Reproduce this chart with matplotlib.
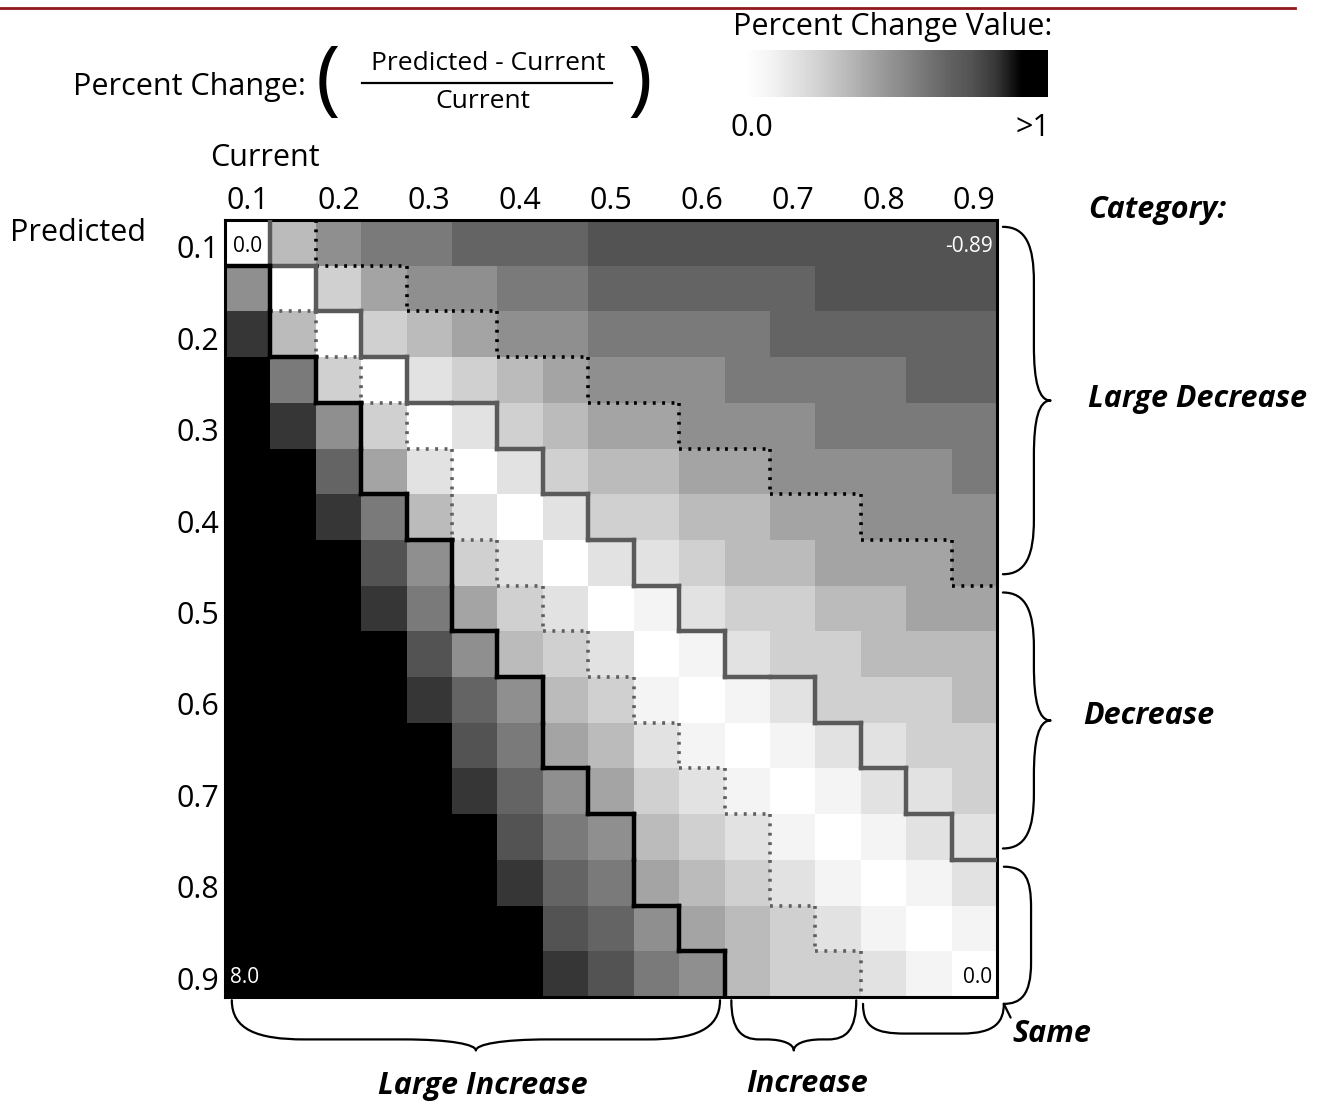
import numpy as np
import matplotlib
matplotlib.use("Agg")
import matplotlib.pyplot as plt
from matplotlib.colors import ListedColormap, BoundaryNorm, LinearSegmentedColormap
from matplotlib.collections import LineCollection
from matplotlib.path import Path
from matplotlib.patches import PathPatch
from matplotlib.lines import Line2D
from matplotlib.transforms import ScaledTranslation

plt.rcParams['font.family'] = ['Open Sans', 'DejaVu Sans']

# values on both axes
current = [0.1, 0.15, 0.2, 0.25, 0.3, 0.35, 0.4, 0.45, 0.5, 0.55, 0.6, 0.65, 0.7, 0.75, 0.8, 0.85, 0.9]
predicted = [0.1, 0.15, 0.2, 0.25, 0.3, 0.35, 0.4, 0.45, 0.5, 0.55, 0.6, 0.65, 0.7, 0.75, 0.8, 0.85, 0.9]
tick_labels = ['0.1', '0.2', '0.3', '0.4', '0.5', '0.6', '0.7', '0.8', '0.9']

# grey bins of |percent change|
bin_edges = [0, 0.001, 0.1, 0.2, 0.3, 0.4, 0.5, 0.6, 0.7, 0.8, 0.9, 1.001, 100]
bin_grays = ['#ffffff', '#f4f4f4', '#e2e2e2', '#d0d0d0', '#bbbbbb', '#a4a4a4',
             '#8f8f8f', '#7a7a7a', '#646464', '#535353', '#363636', '#000000']

# categories and the cut points between them
category_names = ['Large Decrease', 'Decrease', 'Same', 'Increase', 'Large Increase']
category_cuts = [-0.5 + 1e-9, -0.15, 0.15, 0.5 - 1e-9]

W, H = 1329, 1104


def fx(x):
    return x / W


def fy(y):
    return 1 - y / H


# percent change = (predicted - current) / current
cur = np.array(current)
pred = np.array(predicted)
pct = np.round((pred[:, None] - cur[None, :]) / cur[None, :], 6)
cat = np.digitize(pct, category_cuts)

fig = plt.figure(figsize=(W / 100, H / 100), dpi=100)
ax = fig.add_axes([fx(225), fy(997), 772 / W, 777 / H])

cmap = ListedColormap(bin_grays)
norm = BoundaryNorm(bin_edges, cmap.N)
n = len(current)
ax.pcolormesh(np.arange(n + 1), np.arange(n + 1), np.abs(pct), cmap=cmap, norm=norm)
ax.set_xlim(0, n)
ax.set_ylim(n, 0)

ax.set_xticks(np.arange(0, n, 2) + 0.5)
ax.set_xticklabels(tick_labels)
ax.set_yticks(np.arange(0, n, 2) + 0.5)
ax.set_yticklabels(tick_labels)
ax.xaxis.tick_top()
ax.tick_params(length=0, labelsize=22, pad=3)
ax.tick_params(axis='y', pad=4)
shift = ScaledTranslation(0, -4 / 100, fig.dpi_scale_trans)
for t in ax.get_yticklabels():
    t.set_transform(t.get_transform() + shift)
for s in ax.spines.values():
    s.set_linewidth(2.2)

# category boundaries along cell edges
styles = {
    'ldec': dict(color='black', lw=2.6, linestyle=(0, (0.8, 1.8))),
    'dec': dict(color='#5a5a5a', lw=3.2, linestyle='-'),
    'inc': dict(color='#5f5f5f', lw=2.6, linestyle=(0, (0.8, 1.8))),
    'linc': dict(color='black', lw=3.2, linestyle='-'),
}


def edge_kind(a, b):
    a, b = min(a, b), max(a, b)
    if b == 4:
        return 'linc'
    if a == 0:
        return 'ldec'
    if (a, b) == (1, 2):
        return 'dec'
    return 'inc'


segs = {k: [] for k in styles}
for i in range(n):
    for j in range(n):
        if j + 1 < n and cat[i, j] != cat[i, j + 1]:
            segs[edge_kind(cat[i, j], cat[i, j + 1])].append([(j + 1, i), (j + 1, i + 1)])
        if i + 1 < n and cat[i, j] != cat[i + 1, j]:
            segs[edge_kind(cat[i, j], cat[i + 1, j])].append([(j, i + 1), (j + 1, i + 1)])
for k, st in styles.items():
    lc = LineCollection(segs[k], colors=st['color'], linewidths=st['lw'],
                        linestyles=[st['linestyle']], zorder=3)
    if st['linestyle'] == '-':
        lc.set_capstyle('projecting')
    ax.add_collection(lc)


# corner values
def fmt(v):
    return f"{v:.1f}" if abs(round(v, 1) - v) < 0.005 else f"{v:.2f}"


corners = [(0, 0, 'center'), (0, n - 1, 'right'), (n - 1, 0, 'left'), (n - 1, n - 1, 'right')]
for i, j, ha in corners:
    v = pct[i, j]
    x = {'center': j + 0.5, 'right': j + 0.9, 'left': j + 0.12}[ha]
    ax.text(x, i + 0.58, fmt(v), ha=ha, va='center', fontsize=15,
            color='white' if abs(v) >= 0.5 else 'black', zorder=4)


# curly braces, drawn in the heatmap's data units
def brace(s0, s1, base, depth, side, hfrac=0.65, kmax=1.2, half=False):
    L = s1 - s0
    h = depth * hfrac
    if half:
        k = min(kmax, 0.3 * L)
        pts = [(0, 0), (0, 0.8 * h), (0.3 * k, h), (k, h), (L - k, h),
               (L - 0.2 * k, h), (L, 0.6 * h), (L, 0)]
        codes = [Path.MOVETO, Path.CURVE4, Path.CURVE4, Path.CURVE4, Path.LINETO,
                 Path.CURVE4, Path.CURVE4, Path.CURVE4]
    else:
        m = 0.5 * L
        k = min(kmax, 0.45 * m)
        pts = [(0, 0), (0, 0.75 * h), (0.35 * k, h), (k, h), (m - k, h),
               (m - 0.35 * k, h), (m, h + 0.1 * depth), (m, depth),
               (m, h + 0.1 * depth), (m + 0.35 * k, h), (m + k, h), (L - k, h),
               (L - 0.35 * k, h), (L, 0.75 * h), (L, 0)]
        codes = [Path.MOVETO, Path.CURVE4, Path.CURVE4, Path.CURVE4, Path.LINETO,
                 Path.CURVE4, Path.CURVE4, Path.CURVE4,
                 Path.CURVE4, Path.CURVE4, Path.CURVE4, Path.LINETO,
                 Path.CURVE4, Path.CURVE4, Path.CURVE4]
    if side == 'right':
        verts = [(base + q, s0 + p) for p, q in pts]
    else:
        verts = [(s0 + p, base + q) for p, q in pts]
    ax.add_patch(PathPatch(Path(verts, codes), fill=False, lw=1.6, color='black',
                           clip_on=False, capstyle='round', joinstyle='round'))


def runs(values):
    out = []
    start = 0
    for idx in range(1, len(values) + 1):
        if idx == len(values) or values[idx] != values[start]:
            out.append((values[start], start, idx))
            start = idx
    return out


corner = n + 0.15
for c, a, b in runs(list(cat[:, -1])):
    if category_names[c] == 'Same':
        brace(a + 0.15, corner, corner, 0.6, 'right', hfrac=1.0, kmax=0.9, half=True)
    else:
        brace(a + 0.15, b - 0.25, n + 0.13, 1.05, 'right')
for c, a, b in runs(list(cat[-1, :])):
    if category_names[c] == 'Same':
        brace(a + 0.05, corner, corner, 0.65, 'bottom', hfrac=1.0, kmax=1.1, half=True)
    else:
        brace(a + 0.15, b - 0.1, n + 0.07, 1.1, 'bottom', hfrac=0.78, kmax=1.6)
ax.add_line(Line2D([corner, corner + 0.15], [corner, corner + 0.3], color='black',
                   lw=1.6, clip_on=False, solid_capstyle='round'))

# category labels
lab = dict(fontsize=22, fontweight='bold', fontstyle='italic')
fig.text(fx(1088), fy(210), 'Category:', ha='left', va='center', **lab)
fig.text(fx(1088), fy(399), category_names[0], ha='left', va='center', **lab)
fig.text(fx(1083), fy(716), category_names[1], ha='left', va='center', **lab)
fig.text(fx(1012), fy(1034), category_names[2], ha='left', va='center', **lab)
fig.text(fx(807), fy(1084), category_names[3], ha='center', va='center', **lab)
fig.text(fx(483), fy(1086), category_names[4], ha='center', va='center', **lab)

# axis titles
fig.text(fx(210), fy(158), 'Current', ha='left', va='center', fontsize=22)
fig.text(fx(10), fy(233), 'Predicted', ha='left', va='center', fontsize=22)

# formula header
fig.add_artist(Line2D([0, fx(1295)], [fy(8), fy(8)], color='#8e1a1a', lw=2))
fig.text(fx(306), fy(87), 'Percent Change:', ha='right', va='center', fontsize=22)
fig.text(fx(328), fy(84), '(', ha='center', va='center', fontsize=60)
fig.text(fx(640), fy(84), ')', ha='center', va='center', fontsize=60)
fig.text(fx(488), fy(64), 'Predicted - Current', ha='center', va='center', fontsize=19)
fig.text(fx(483), fy(101), 'Current', ha='center', va='center', fontsize=19)
fig.add_artist(Line2D([fx(362), fx(612)], [fy(83), fy(83)], color='black', lw=1.6))

# colour scale
fig.text(fx(733), fy(27), 'Percent Change Value:', ha='left', va='center', fontsize=22)
cax = fig.add_axes([fx(745), fy(97), 303 / W, 47 / H])
smooth = LinearSegmentedColormap.from_list('g', bin_grays + ['#000000'])
cax.imshow(np.linspace(0, 1, 300)[None, :], aspect='auto', cmap=smooth)
cax.set_axis_off()
fig.text(fx(730), fy(128), '0.0', ha='left', va='center', fontsize=22)
fig.text(fx(1050), fy(128), '>1', ha='right', va='center', fontsize=22)

fig.savefig('out.png', dpi=100)
